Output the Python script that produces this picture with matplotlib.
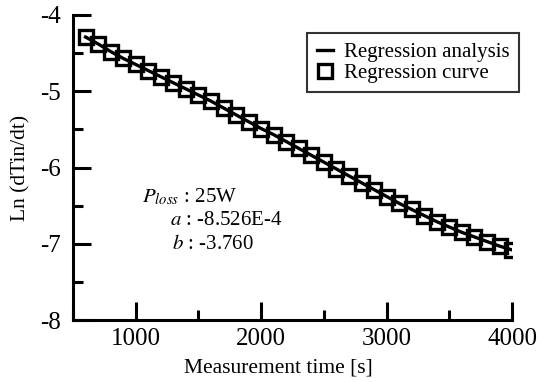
import numpy as np
import matplotlib
matplotlib.use('Agg')
import matplotlib.pyplot as plt
from matplotlib.ticker import MultipleLocator

# Data gelezen uit de figuur
time_s = [600, 700, 800, 900, 1000, 1100, 1200, 1300, 1400, 1500,
          1600, 1700, 1800, 1900, 2000, 2100, 2200, 2300, 2400, 2500,
          2600, 2700, 2800, 2900, 3000, 3100, 3200, 3300, 3400, 3500,
          3600, 3700, 3800, 3900, 4000]
ln_dtdt = [-4.29, -4.38, -4.48, -4.57, -4.65, -4.73, -4.81, -4.89, -4.97, -5.05,
           -5.13, -5.22, -5.31, -5.40, -5.49, -5.57, -5.66, -5.75, -5.84, -5.93,
           -6.02, -6.11, -6.20, -6.29, -6.38, -6.47, -6.55, -6.63, -6.71, -6.78,
           -6.85, -6.91, -6.97, -7.03, -7.08]

plt.rcParams['font.family'] = ['Liberation Serif', 'DejaVu Serif']
plt.rcParams['mathtext.fontset'] = 'stix'
plt.rcParams['axes.unicode_minus'] = False

fig = plt.figure(figsize=(5.53, 3.82), dpi=100)
ax = fig.add_axes([0.132, 0.162, 0.794, 0.799])

ax.plot(time_s, ln_dtdt, color='black', linewidth=2.4, label='Regression analysis')
ax.plot(time_s, ln_dtdt, linestyle='none', marker='s', markersize=9.5,
        markerfacecolor='none', markeredgecolor='black', markeredgewidth=2.4,
        label='Regression curve')

ax.set_xlim(500, 4000)
ax.set_ylim(-8, -4)
ax.xaxis.set_major_locator(MultipleLocator(1000))
ax.xaxis.set_minor_locator(MultipleLocator(500))
ax.yaxis.set_major_locator(MultipleLocator(1))
ax.yaxis.set_minor_locator(MultipleLocator(0.5))
ax.tick_params(which='major', direction='in', length=13, width=2.2, labelsize=18)
ax.tick_params(axis='y', which='major', pad=9)
ax.tick_params(axis='x', which='major', pad=6)
ax.tick_params(which='minor', direction='in', length=7, width=2.2)
ax.spines['top'].set_visible(False)
ax.spines['right'].set_visible(False)
ax.spines['left'].set_linewidth(2.2)
ax.spines['bottom'].set_linewidth(2.2)

ax.set_xlabel('Measurement time [s]', fontsize=15.5)
ax.xaxis.set_label_coords(0.467, -0.125)
ax.set_ylabel('Ln (dTin/dt)', fontsize=15.5, labelpad=7)

ax.text(0.374, 0.387, r'$P_{loss}$ : 25W', transform=ax.transAxes, ha='right', fontsize=15)
ax.text(0.222, 0.31, r'$a$ : -8.526E-4', transform=ax.transAxes, ha='left', fontsize=15)
ax.text(0.226, 0.233, r'$b$ : -3.760', transform=ax.transAxes, ha='left', fontsize=15)

leg = ax.legend(loc='upper right', bbox_to_anchor=(1.015, 0.94), fontsize=15,
                frameon=True, fancybox=False, edgecolor='black', handlelength=0.8,
                handletextpad=0.5, borderpad=0.45, labelspacing=0.05, borderaxespad=0)
leg.get_frame().set_linewidth(1.5)

fig.savefig('out.png', dpi=100)
